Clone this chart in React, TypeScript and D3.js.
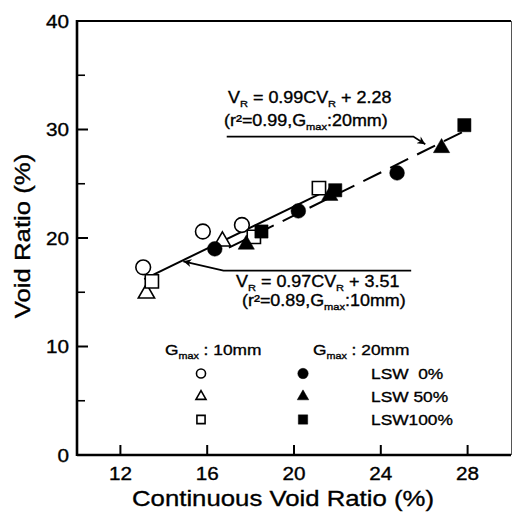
import React from "react";
import * as d3 from "d3";

const X_DOMAIN = [10, 30];
const Y_DOMAIN = [0, 40];
const X_TICKS = [12, 16, 20, 24, 28];
const Y_TICKS = [0, 10, 20, 30, 40];
const Y_MINOR = [5, 15, 25, 35];

// Gmax 10mm (open markers)
const g10LSW0 = [
  { x: 13.05, y: 17.3 },
  { x: 15.8, y: 20.6 },
  { x: 17.6, y: 21.2 },
];
const g10LSW50 = [
  { x: 13.2, y: 14.9 },
  { x: 16.7, y: 19.7 },
];
const g10LSW100 = [
  { x: 13.45, y: 16.0 },
  { x: 18.15, y: 20.1 },
  { x: 21.15, y: 24.6 },
];
// Gmax 20mm (filled markers)
const g20LSW0 = [
  { x: 16.35, y: 19.0 },
  { x: 20.2, y: 22.5 },
  { x: 24.75, y: 26.0 },
];
const g20LSW50 = [
  { x: 17.8, y: 19.4 },
  { x: 21.65, y: 23.9 },
  { x: 26.8, y: 28.3 },
];
const g20LSW100 = [
  { x: 18.5, y: 20.6 },
  { x: 21.9, y: 24.4 },
  { x: 27.85, y: 30.4 },
];

// regression fits: [slope, intercept, xStart, xEnd]
const FIT10 = [0.97, 3.51, 13.1, 21.2];
const FIT20 = [0.99, 2.28, 17.0, 27.8];

const LEGEND_ROWS = ["LSW  0%", "LSW 50%", "LSW100%"];

const W = 513;
const H = 516;
const x = d3.scaleLinear().domain(X_DOMAIN).range([77, 511]);
const y = d3.scaleLinear().domain(Y_DOMAIN).range([455, 21]);

const FONT = "'Liberation Sans', Arial, Helvetica, sans-serif";
const SX = 1.12;

function T({ x: px, y: py, size, anchor = "start", rotate = false, children }: any) {
  return (
    <text
      transform={`translate(${px},${py})${rotate ? " rotate(-90)" : ""} scale(${SX},1)`}
      fontSize={size}
      textAnchor={anchor}
      fontFamily={FONT}
      fill="#000"
      stroke="#000"
      strokeWidth={0.35}
      style={{ whiteSpace: "pre" }}
    >
      {children}
    </text>
  );
}

const symPath = (type: any, size: number) => d3.symbol().type(type).size(size)() as string;

function Marker({ cx, cy, kind, filled, scale = 1 }: any) {
  const fill = filled ? "#000" : "#fff";
  const sw = filled ? 0.5 : 1.6;
  let d = "";
  if (kind === "circle") d = symPath(d3.symbolCircle, 170 * scale);
  if (kind === "triangle") d = symPath(d3.symbolTriangle, 115 * scale);
  if (kind === "square") d = symPath(d3.symbolSquare, 175 * scale);
  return <path d={d} transform={`translate(${cx},${cy})`} fill={fill} stroke="#000" strokeWidth={sw} />;
}

const SERIES = [
  { data: g10LSW0, kind: "circle", filled: false },
  { data: g10LSW50, kind: "triangle", filled: false },
  { data: g10LSW100, kind: "square", filled: false },
  { data: g20LSW0, kind: "circle", filled: true },
  { data: g20LSW50, kind: "triangle", filled: true },
  { data: g20LSW100, kind: "square", filled: true },
];

function fitLine(f: number[]) {
  const [m, b, x0, x1] = f;
  return d3.line<number>()
    .x((v) => x(v))
    .y((v) => y(m * v + b))([x0, x1]) as string;
}

// annotation arrow paths in data units
const ARROW20 = [
  [16.9, 29.35],
  [25.5, 29.35],
  [26.05, 28.65],
];
const ARROW10 = [
  [25.4, 17.0],
  [16.75, 17.0],
  [14.9, 17.85],
];

const arrowLine = d3.line<number[]>().x((d) => x(d[0])).y((d) => y(d[1]));

function Sub({ t, size }: any) {
  return null;
}

export default function App() {
  const sub = (size: number) => ({ fontSize: size * 0.62, dy: 4 });
  return (
    <svg width={W} height={H} style={{ position: "absolute", left: 0, top: 0, background: "#fff" }}>
      <defs>
        <marker id="ah" viewBox="0 0 10 10" refX="10" refY="5" markerWidth="10" markerHeight="8" markerUnits="userSpaceOnUse" orient="auto">
          <path d="M0,0 L10,5 L0,10 L3,5 Z" fill="#000" />
        </marker>
      </defs>
      <rect x={0} y={0} width={W} height={H} fill="#fff" />

      {/* frame */}
      <line x1={x(10)} x2={x(30)} y1={y(40)} y2={y(40)} stroke="#000" strokeWidth={2} />
      <line x1={x(30) + 0.5} x2={x(30) + 0.5} y1={y(40)} y2={y(0)} stroke="#555" strokeWidth={1} />
      <line x1={x(10)} x2={x(10)} y1={y(40) - 1} y2={y(0) + 1} stroke="#000" strokeWidth={2.6} />
      <line x1={x(10)} x2={x(30)} y1={y(0)} y2={y(0)} stroke="#000" strokeWidth={2.6} />

      {/* y ticks */}
      {Y_TICKS.map((t) => (
        <g key={"y" + t}>
          <line x1={x(10)} x2={x(10) + 11} y1={y(t)} y2={y(t)} stroke="#000" strokeWidth={2} />
          <T x={x(10) - 8} y={y(t) + 6.6} size={18.5} anchor="end">{t}</T>
        </g>
      ))}
      {Y_MINOR.map((t) => (
        <line key={"ym" + t} x1={x(10)} x2={x(10) + 8} y1={y(t)} y2={y(t)} stroke="#000" strokeWidth={1.6} />
      ))}
      {/* x ticks */}
      {X_TICKS.map((t) => (
        <g key={"x" + t}>
          <line x1={x(t)} x2={x(t)} y1={y(0)} y2={y(0) - 10} stroke="#000" strokeWidth={2} />
          <T x={x(t)} y={480} size={18.5} anchor="middle">{t}</T>
        </g>
      ))}

      {/* axis titles */}
      <T x={283} y={506} size={23} anchor="middle">Continuous Void Ratio (%)</T>
      <T x={30} y={236} size={23} anchor="middle" rotate>Void Ratio (%)</T>

      {/* fit lines */}
      <path d={fitLine(FIT10)} fill="none" stroke="#000" strokeWidth={2} />
      <path d={fitLine(FIT20)} fill="none" stroke="#000" strokeWidth={2} strokeDasharray="20 10" />

      {/* data */}
      {SERIES.map((s, i) =>
        s.data.map((p, j) => (
          <Marker key={i + "-" + j} cx={x(p.x)} cy={y(p.y)} kind={s.kind} filled={s.filled} />
        ))
      )}

      {/* annotations */}
      <path d={arrowLine(ARROW20) as string} fill="none" stroke="#000" strokeWidth={1.8} markerEnd="url(#ah)" />
      <path d={arrowLine(ARROW10) as string} fill="none" stroke="#000" strokeWidth={1.8} markerEnd="url(#ah)" />

      <T x={228} y={103} size={16}>
        V<tspan {...sub(16)}>R</tspan><tspan dy={-4}> = 0.99CV</tspan><tspan {...sub(16)}>R</tspan><tspan dy={-4}> + 2.28</tspan>
      </T>
      <T x={224} y={126} size={16}>
        (r²=0.99,G<tspan {...sub(16)}>max</tspan><tspan dy={-4}>:20mm)</tspan>
      </T>
      <T x={236} y={287} size={16}>
        V<tspan {...sub(16)}>R</tspan><tspan dy={-4}> = 0.97CV</tspan><tspan {...sub(16)}>R</tspan><tspan dy={-4}> + 3.51</tspan>
      </T>
      <T x={242} y={306} size={16}>
        (r²=0.89,G<tspan {...sub(16)}>max</tspan><tspan dy={-4}>:10mm)</tspan>
      </T>

      {/* legend */}
      <T x={165} y={355} size={15.5}>
        G<tspan {...sub(15.5)}>max</tspan><tspan dy={-4}> : 10mm</tspan>
      </T>
      <T x={313} y={355} size={15.5}>
        G<tspan {...sub(15.5)}>max</tspan><tspan dy={-4}> : 20mm</tspan>
      </T>
      {LEGEND_ROWS.map((lab, i) => {
        const cy = 373.5 + i * 23;
        const kind = ["circle", "triangle", "square"][i];
        return (
          <g key={lab}>
            <Marker cx={201} cy={cy} kind={kind} filled={false} scale={0.38} />
            <Marker cx={303} cy={cy} kind={kind} filled={true} scale={0.5} />
            <T x={371} y={cy + 5.5} size={15.5}>{lab}</T>
          </g>
        );
      })}
    </svg>
  );
}
